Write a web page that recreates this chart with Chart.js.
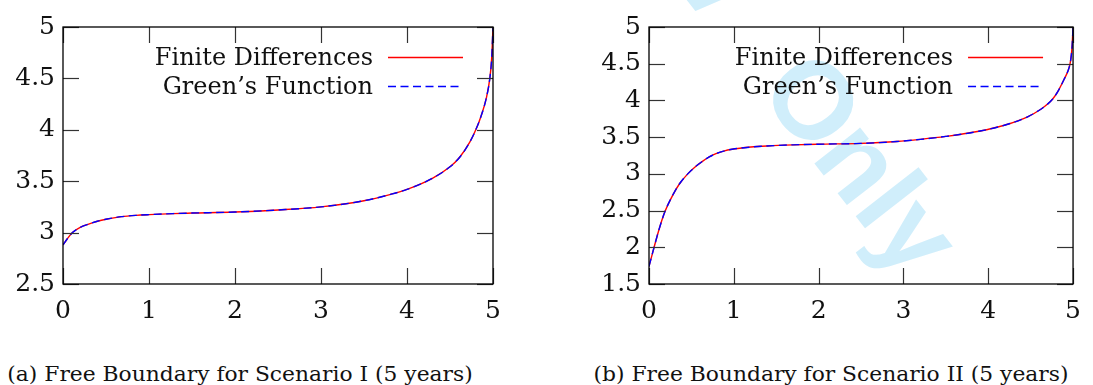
<!DOCTYPE html>
<html>
<head>
<meta charset="utf-8">
<script src="https://cdn.jsdelivr.net/npm/chart.js@4.4.0/dist/chart.umd.min.js"></script>
<style>
html, body { margin: 0; padding: 0; background: #fff; }
#page { position: relative; width: 1093px; height: 385px; overflow: hidden; }
.box { position: absolute; top: 0; height: 330px; z-index: 1; }
#boxA { left: 0; width: 520px; }
#boxB { left: 586px; width: 507px; }
.cap { position: absolute; top: 363px; width: 480px; text-align: center; font-family: "DejaVu Serif"; font-size: 20px; line-height: 22px; white-space: nowrap; color: #111; transform: scaleX(1.09); transform-origin: 50% 50%; }
.mark { position: absolute; left: 757px; top: 90px; width: 0; height: 0; transform: rotate(52deg); transform-origin: 0 0; z-index: 0; }
.mark span { position: absolute; bottom: -17px; font: bold 110px "Liberation Sans"; line-height: 1; color: #d0eefb; white-space: nowrap; }
</style>
</head>
<body>
<div id="page">
  <div class="mark"><span style="right:85px">For Peer Review</span><span style="left:0">Only</span></div>
  <div class="box" id="boxA"><canvas id="chartA"></canvas></div>
  <div class="box" id="boxB"><canvas id="chartB"></canvas></div>
  <div class="cap" style="left:0">(a) Free Boundary for Scenario I (5 years)</div>
  <div class="cap" style="left:591px">(b) Free Boundary for Scenario II (5 years)</div>
</div>
<script>
// time axis (years) and tick labels
const xTicks = [0, 1, 2, 3, 4, 5];
const yTicksA = [2.5, 3, 3.5, 4, 4.5, 5];
const yTicksB = [1.5, 2, 2.5, 3, 3.5, 4, 4.5, 5];

// scenario I
const timeA = [0, 0.05, 0.11, 0.2, 0.29, 0.4, 0.5, 0.68, 0.85, 1.0, 1.28, 1.5, 2.0, 2.5, 3.0, 3.5, 3.8, 4.0, 4.3, 4.5, 4.61, 4.73, 4.8, 4.86, 4.92, 4.963, 4.985, 5.0];
const finiteA = [2.88, 2.94, 3.0, 3.05, 3.08, 3.11, 3.13, 3.155, 3.168, 3.175, 3.185, 3.19, 3.2, 3.22, 3.25, 3.31, 3.37, 3.42, 3.53, 3.64, 3.73, 3.88, 4.0, 4.13, 4.3, 4.5, 4.7, 5.0];
const greensA = [2.88, 2.94, 3.0, 3.05, 3.08, 3.11, 3.13, 3.155, 3.168, 3.175, 3.185, 3.19, 3.2, 3.22, 3.25, 3.31, 3.37, 3.42, 3.53, 3.64, 3.73, 3.88, 4.0, 4.13, 4.3, 4.5, 4.7, 5.0];

// scenario II
const timeB = [0, 0.03, 0.06, 0.12, 0.186, 0.28, 0.36, 0.457, 0.55, 0.63, 0.71, 0.79, 0.88, 0.98, 1.2, 1.39, 1.7, 2.0, 2.5, 2.92, 3.2, 3.5, 3.89, 4.2, 4.47, 4.62, 4.7, 4.76, 4.82, 4.9, 4.94, 4.965, 4.98, 4.99, 5.0];
const finiteB = [1.74, 1.87, 2.0, 2.25, 2.48, 2.71, 2.865, 3.0, 3.1, 3.17, 3.23, 3.275, 3.31, 3.335, 3.365, 3.38, 3.395, 3.404, 3.415, 3.44, 3.47, 3.51, 3.58, 3.665, 3.78, 3.88, 3.95, 4.02, 4.12, 4.3, 4.4, 4.5, 4.62, 4.76, 5.0];
const greensB = [1.74, 1.87, 2.0, 2.25, 2.48, 2.71, 2.865, 3.0, 3.1, 3.17, 3.23, 3.275, 3.31, 3.335, 3.365, 3.38, 3.395, 3.404, 3.415, 3.44, 3.47, 3.51, 3.58, 3.665, 3.78, 3.88, 3.95, 4.02, 4.12, 4.3, 4.4, 4.5, 4.62, 4.76, 5.0];

const seriesNames = ['Finite Differences', 'Green\u2019s Function'];

const SERIF = '"DejaVu Serif", serif';

function seg(ctx, x1, y1, x2, y2) {
  ctx.beginPath();
  ctx.moveTo(x1, y1);
  ctx.lineTo(x2, y2);
  ctx.stroke();
}

// box round the plot + ticks pointing inwards on all four sides
const frameTicks = {
  id: 'frameTicks',
  afterDatasetsDraw(chart) {
    const ctx = chart.ctx, ca = chart.chartArea;
    const xs = chart.scales.x, ys = chart.scales.y;
    ctx.save();
    ctx.strokeStyle = '#333';
    ctx.lineWidth = 1.2;
    xs.ticks.forEach(t => {
      const px = Math.round(xs.getPixelForValue(t.value)) + 0.5;
      seg(ctx, px, ca.bottom, px, ca.bottom - 16);
      seg(ctx, px, ca.top, px, ca.top + 16);
    });
    ys.ticks.forEach(t => {
      const py = Math.round(ys.getPixelForValue(t.value)) + 0.5;
      seg(ctx, ca.left, py, ca.left + 16, py);
      seg(ctx, ca.right, py, ca.right - 16, py);
    });
    ctx.strokeStyle = '#000';
    ctx.lineWidth = 1.3;
    ctx.strokeRect(ca.left, ca.top, ca.right - ca.left, ca.bottom - ca.top);
    ctx.restore();
  }
};

// legend in the top right corner: text, then line sample
const legendIn = {
  id: 'legendIn',
  afterDatasetsDraw(chart) {
    const ctx = chart.ctx, ca = chart.chartArea;
    ctx.save();
    ctx.font = '24px ' + SERIF;
    ctx.fillStyle = '#111';
    ctx.textAlign = 'right';
    ctx.textBaseline = 'alphabetic';
    chart.data.datasets.forEach((ds, i) => {
      const base = ca.top + 38 + i * 29;
      ctx.fillText(ds.label, ca.right - 120, base);
      ctx.strokeStyle = ds.borderColor;
      ctx.lineWidth = ds.borderWidth;
      ctx.setLineDash(ds.borderDash || []);
      seg(ctx, ca.right - 105, base - 7.5, ca.right - 30, base - 7.5);
    });
    ctx.restore();
  }
};

function toPoints(xs, ys) {
  return xs.map((x, i) => ({ x: x, y: ys[i] }));
}

function makeChart(id, time, fd, gf, yTicks, padRight) {
  return new Chart(document.getElementById(id), {
    type: 'line',
    data: {
      datasets: [
        // red under, blue dashes on top
        { label: seriesNames[0], data: toPoints(time, fd), order: 2, borderColor: 'rgb(255,0,0)', borderWidth: 1.4, pointRadius: 0, cubicInterpolationMode: 'monotone' },
        { label: seriesNames[1], data: toPoints(time, gf), order: 1, borderColor: 'rgb(0,0,255)', borderWidth: 1.4, borderDash: [8, 4.5], pointRadius: 0, cubicInterpolationMode: 'monotone' }
      ]
    },
    options: {
      responsive: true,
      maintainAspectRatio: false,
      animation: false,
      devicePixelRatio: 1,
      layout: { padding: { top: 27, right: padRight, left: 0, bottom: 0 } },
      plugins: { legend: { display: false }, tooltip: { enabled: false } },
      scales: {
        x: {
          type: 'linear',
          min: 0, max: 5,
          grid: { display: false, drawTicks: false },
          border: { display: false },
          afterBuildTicks: s => { s.ticks = xTicks.map(v => ({ value: v })); },
          afterFit: s => { s.height = 46; },
          ticks: { padding: 12, maxRotation: 0, color: '#111', font: { family: SERIF, size: 25 }, callback: v => String(v) }
        },
        y: {
          type: 'linear',
          min: yTicks[0], max: yTicks[yTicks.length - 1],
          grid: { display: false, drawTicks: false },
          border: { display: false },
          afterBuildTicks: s => { s.ticks = yTicks.map(v => ({ value: v })); },
          afterFit: s => { s.width = 63; },
          ticks: { padding: 8, color: '#111', font: { family: SERIF, size: 25 }, callback: v => String(v) }
        }
      }
    },
    plugins: [frameTicks, legendIn]
  });
}

makeChart('chartA', timeA, finiteA, greensA, yTicksA, 27);
makeChart('chartB', timeB, finiteB, greensB, yTicksB, 14);
</script>
</body>
</html>
